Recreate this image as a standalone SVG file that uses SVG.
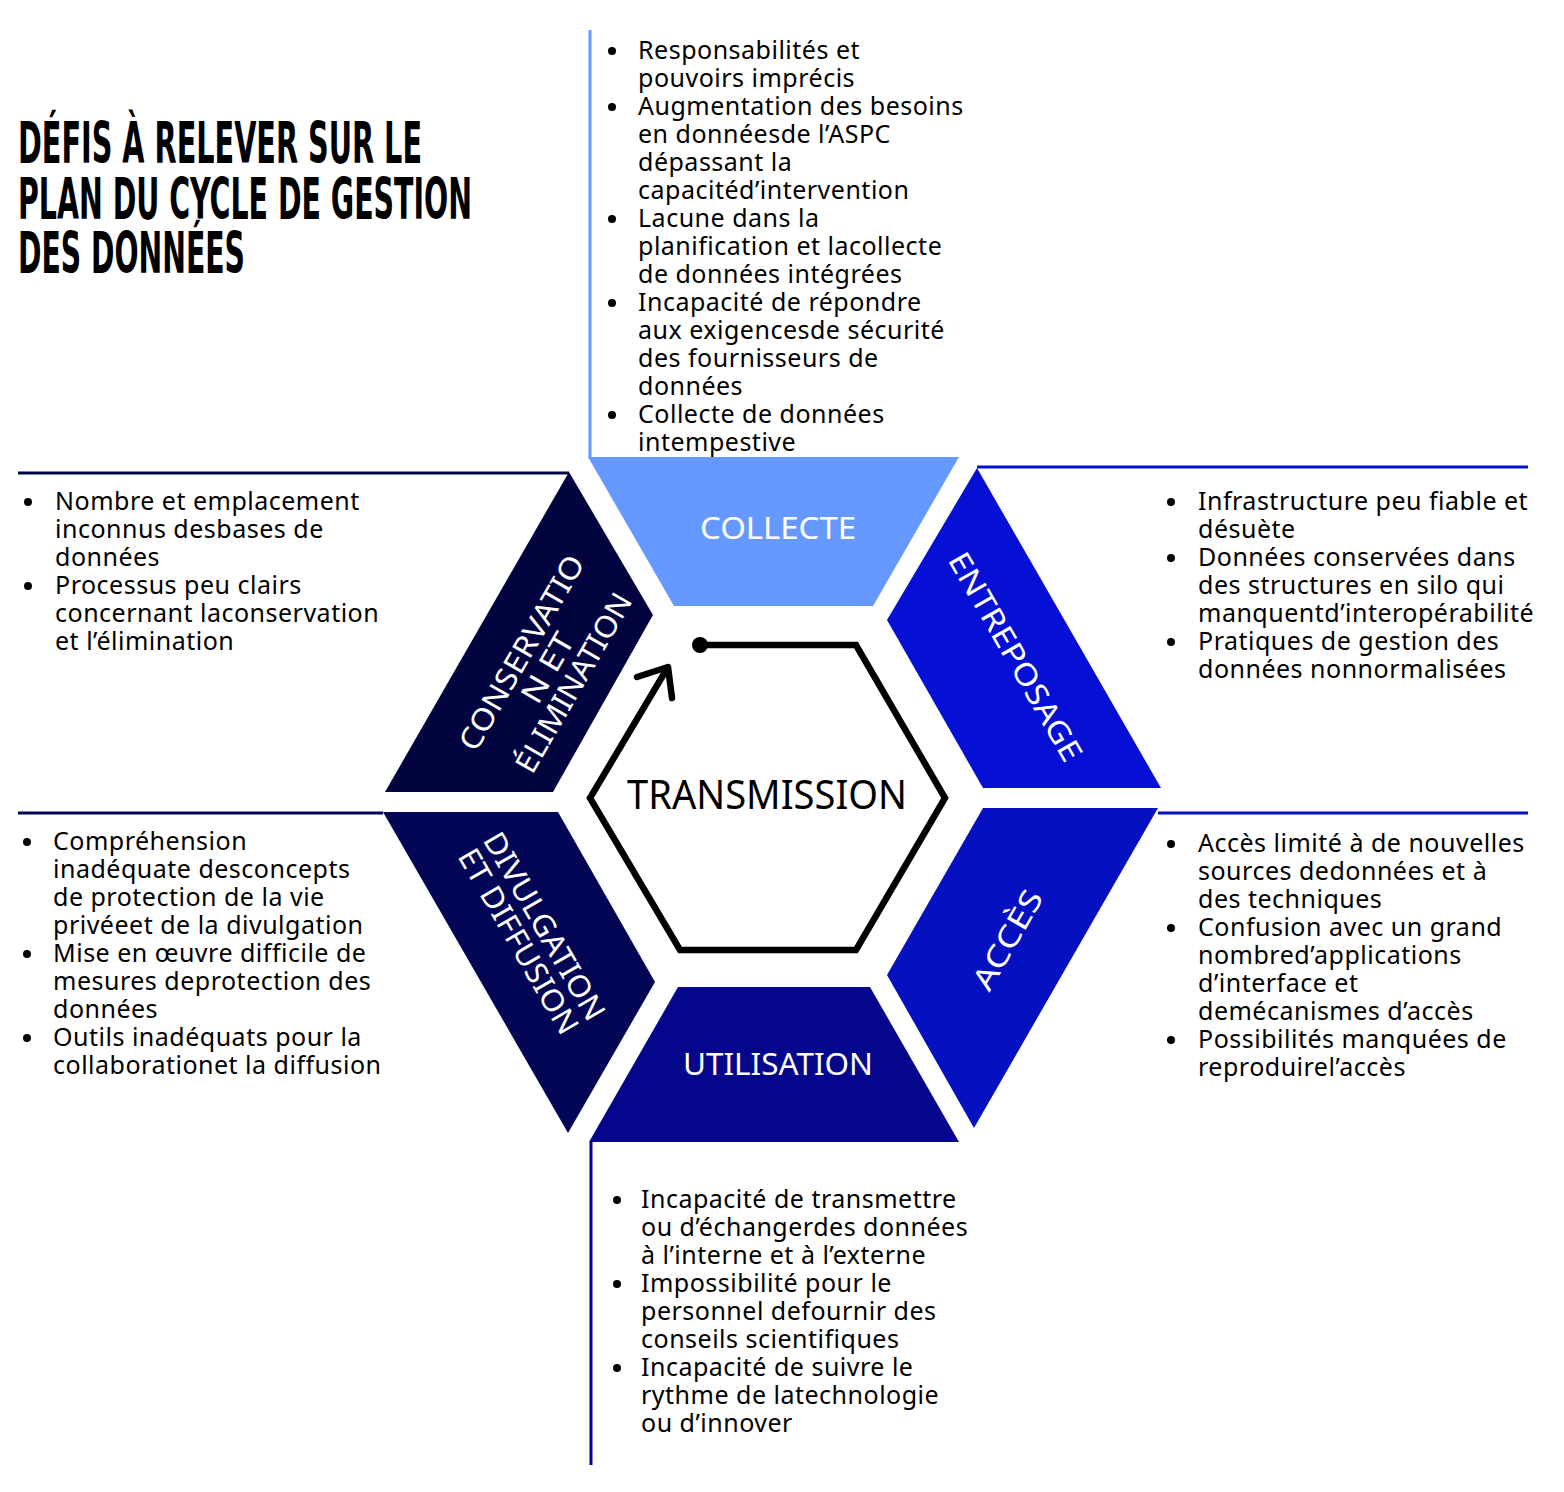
<svg xmlns="http://www.w3.org/2000/svg" width="1564" height="1492" viewBox="0 0 1564 1492">
<style>
.title{font-family:"Liberation Sans Narrow","DejaVu Sans Condensed","Liberation Sans",sans-serif;font-weight:bold;font-size:57px;fill:#000}
.body{font-family:"Noto Sans","Open Sans",sans-serif;font-size:25px;letter-spacing:0.5px;fill:#000}
.lab{font-family:"Noto Sans","Open Sans",sans-serif;font-size:30px;fill:#fff;text-anchor:middle}
.center{font-family:"Noto Sans","Open Sans",sans-serif;font-size:40px;fill:#000;text-anchor:middle}
.ln{fill:none;stroke-width:3}
.hex{fill:none;stroke:#000;stroke-width:6.5;stroke-linejoin:miter}
</style>
<defs>
<circle id="b" r="4" fill="#000"/>
</defs>
<rect width="1564" height="1492" fill="#fff"/>

<g id="title">
<text class="title" x="18" y="163" textLength="404" lengthAdjust="spacingAndGlyphs">DÉFIS À RELEVER SUR LE</text>
<text class="title" x="18" y="219" textLength="454" lengthAdjust="spacingAndGlyphs">PLAN DU CYCLE DE GESTION</text>
<text class="title" x="18" y="273" textLength="227" lengthAdjust="spacingAndGlyphs">DES DONNÉES</text>
</g>

<g id="connectors">
<line class="ln" x1="590" y1="30" x2="590" y2="457" stroke="#6699FF"/>
<line class="ln" x1="18" y1="473" x2="569" y2="473" stroke="#02043F"/>
<line class="ln" x1="977" y1="467" x2="1528" y2="467" stroke="#0610D5"/>
<line class="ln" x1="1158" y1="813" x2="1528" y2="813" stroke="#0510C0"/>
<line class="ln" x1="18" y1="813" x2="383" y2="813" stroke="#020655"/>
<line class="ln" x1="591" y1="1142" x2="591" y2="1465" stroke="#04078C"/>
</g>

<g id="collecte">
<polygon points="588,457 959,457 873,606 674,606" fill="#6699FF"/>
<text class="lab" x="778" y="539" textLength="156" lengthAdjust="spacingAndGlyphs">COLLECTE</text>
</g>

<g id="entreposage">
<polygon points="977,468 1161,788 983,788 887,620" fill="#0610D5"/>
<g transform="translate(1015,657) rotate(60)">
<text class="lab" x="0" y="10" textLength="236" lengthAdjust="spacingAndGlyphs">ENTREPOSAGE</text>
</g>
</g>

<g id="acces">
<polygon points="983,808 1158,808 974,1128 887,975" fill="#0510C0"/>
<g transform="translate(1008,940) rotate(-60)">
<text class="lab" x="0" y="10" textLength="110" lengthAdjust="spacingAndGlyphs">ACCÈS</text>
</g>
</g>

<g id="utilisation">
<polygon points="678,987 870,987 959,1142 589,1142" fill="#04078C"/>
<text class="lab" x="778" y="1075" textLength="190" lengthAdjust="spacingAndGlyphs">UTILISATION</text>
</g>

<g id="divulgation">
<polygon points="383,812 558,812 655,982 568,1133" fill="#020655"/>
<g transform="translate(531,934) rotate(60)">
<text class="lab" x="0" y="-5" textLength="212" lengthAdjust="spacingAndGlyphs">DIVULGATION</text>
<text class="lab" x="0" y="25" textLength="209" lengthAdjust="spacingAndGlyphs">ET DIFFUSION</text>
</g>
</g>

<g id="conservation">
<polygon points="569,472 653,615 553,792 385,792" fill="#02043F"/>
<g transform="translate(548,668) rotate(-60)">
<text class="lab" x="0" y="-20" textLength="220" lengthAdjust="spacingAndGlyphs">CONSERVATIO</text>
<text class="lab" x="0" y="10" textLength="76" lengthAdjust="spacingAndGlyphs">N ET</text>
<text class="lab" x="0" y="40" textLength="202" lengthAdjust="spacingAndGlyphs">ÉLIMINATION</text>
</g>
</g>

<g id="transmission">
<path class="hex" d="M700,645 L856,645 L945,798 L856,950 L680,950 L590,798 L668,667"/>
<path d="M637,677 L668,667 L672,698" fill="none" stroke="#000" stroke-width="6.5" stroke-linecap="round" stroke-linejoin="round"/>
<circle cx="700" cy="645" r="8" fill="#000"/>
<text class="center" x="767" y="809" textLength="280" lengthAdjust="spacingAndGlyphs">TRANSMISSION</text>
</g>

<g id="notes-collecte">
<use href="#b" x="612" y="51"/><use href="#b" x="612" y="107"/><use href="#b" x="612" y="219"/><use href="#b" x="612" y="303"/><use href="#b" x="612" y="415"/>
<text class="body">
<tspan x="638" y="59">Responsabilités et</tspan>
<tspan x="638" y="87">pouvoirs imprécis</tspan>
<tspan x="638" y="115">Augmentation des besoins</tspan>
<tspan x="638" y="143">en donnéesde l’ASPC</tspan>
<tspan x="638" y="171">dépassant la</tspan>
<tspan x="638" y="199">capacitéd’intervention</tspan>
<tspan x="638" y="227">Lacune dans la</tspan>
<tspan x="638" y="255">planification et lacollecte</tspan>
<tspan x="638" y="283">de données intégrées</tspan>
<tspan x="638" y="311">Incapacité de répondre</tspan>
<tspan x="638" y="339">aux exigencesde sécurité</tspan>
<tspan x="638" y="367">des fournisseurs de</tspan>
<tspan x="638" y="395">données</tspan>
<tspan x="638" y="423">Collecte de données</tspan>
<tspan x="638" y="451">intempestive</tspan>
</text>
</g>

<g id="notes-entreposage">
<use href="#b" x="1171" y="502"/><use href="#b" x="1171" y="558"/><use href="#b" x="1171" y="642"/>
<text class="body">
<tspan x="1198" y="510">Infrastructure peu fiable et</tspan>
<tspan x="1198" y="538">désuète</tspan>
<tspan x="1198" y="566">Données conservées dans</tspan>
<tspan x="1198" y="594">des structures en silo qui</tspan>
<tspan x="1198" y="622">manquentd’interopérabilité</tspan>
<tspan x="1198" y="650">Pratiques de gestion des</tspan>
<tspan x="1198" y="678">données nonnormalisées</tspan>
</text>
</g>

<g id="notes-acces">
<use href="#b" x="1171" y="844"/><use href="#b" x="1171" y="928"/><use href="#b" x="1171" y="1040"/>
<text class="body">
<tspan x="1198" y="852">Accès limité à de nouvelles</tspan>
<tspan x="1198" y="880">sources dedonnées et à</tspan>
<tspan x="1198" y="908">des techniques</tspan>
<tspan x="1198" y="936">Confusion avec un grand</tspan>
<tspan x="1198" y="964">nombred’applications</tspan>
<tspan x="1198" y="992">d’interface et</tspan>
<tspan x="1198" y="1020">demécanismes d’accès</tspan>
<tspan x="1198" y="1048">Possibilités manquées de</tspan>
<tspan x="1198" y="1076">reproduirel’accès</tspan>
</text>
</g>

<g id="notes-utilisation">
<use href="#b" x="617" y="1200"/><use href="#b" x="617" y="1284"/><use href="#b" x="617" y="1368"/>
<text class="body">
<tspan x="641" y="1208">Incapacité de transmettre</tspan>
<tspan x="641" y="1236">ou d’échangerdes données</tspan>
<tspan x="641" y="1264">à l’interne et à l’externe</tspan>
<tspan x="641" y="1292">Impossibilité pour le</tspan>
<tspan x="641" y="1320">personnel defournir des</tspan>
<tspan x="641" y="1348">conseils scientifiques</tspan>
<tspan x="641" y="1376">Incapacité de suivre le</tspan>
<tspan x="641" y="1404">rythme de latechnologie</tspan>
<tspan x="641" y="1432">ou d’innover</tspan>
</text>
</g>

<g id="notes-divulgation">
<use href="#b" x="27" y="842"/><use href="#b" x="27" y="954"/><use href="#b" x="27" y="1038"/>
<text class="body">
<tspan x="53" y="850">Compréhension</tspan>
<tspan x="53" y="878">inadéquate desconcepts</tspan>
<tspan x="53" y="906">de protection de la vie</tspan>
<tspan x="53" y="934">privéeet de la divulgation</tspan>
<tspan x="53" y="962">Mise en œuvre difficile de</tspan>
<tspan x="53" y="990">mesures deprotection des</tspan>
<tspan x="53" y="1018">données</tspan>
<tspan x="53" y="1046">Outils inadéquats pour la</tspan>
<tspan x="53" y="1074">collaborationet la diffusion</tspan>
</text>
</g>

<g id="notes-conservation">
<use href="#b" x="28" y="502"/><use href="#b" x="28" y="586"/>
<text class="body">
<tspan x="55" y="510">Nombre et emplacement</tspan>
<tspan x="55" y="538">inconnus desbases de</tspan>
<tspan x="55" y="566">données</tspan>
<tspan x="55" y="594">Processus peu clairs</tspan>
<tspan x="55" y="622">concernant laconservation</tspan>
<tspan x="55" y="650">et l’élimination</tspan>
</text>
</g>
</svg>
